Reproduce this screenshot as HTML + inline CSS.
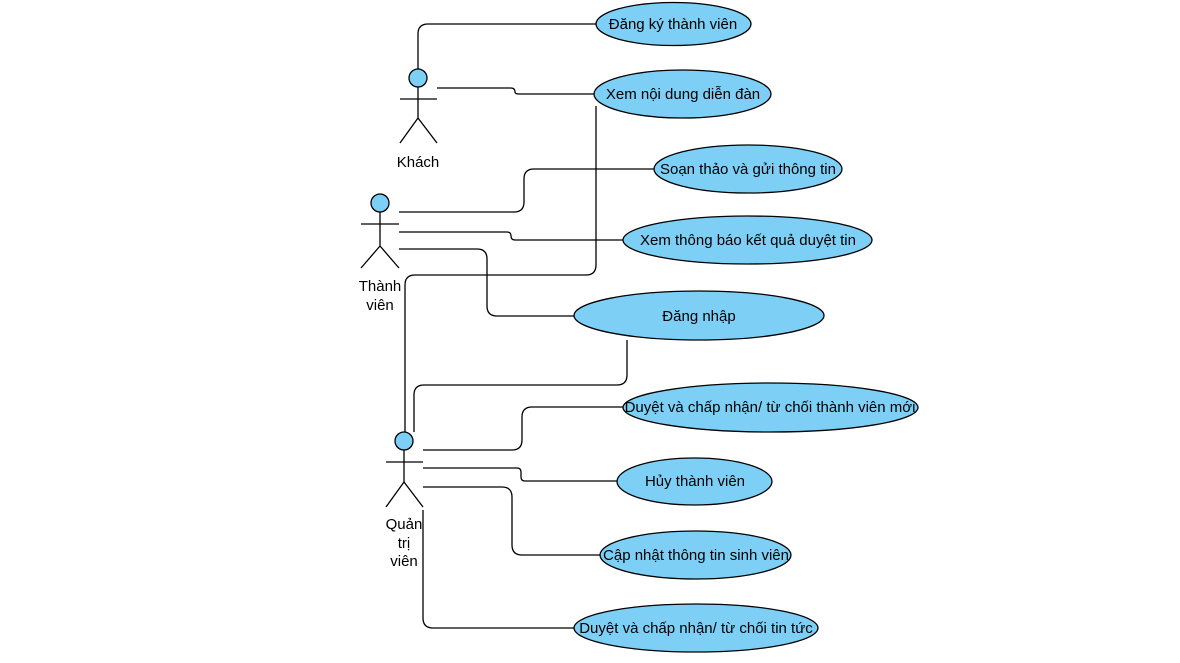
<!DOCTYPE html>
<html><head><meta charset="utf-8"><style>
html,body{margin:0;padding:0;background:#fff;}
svg{display:block;}
text{font-family:"Liberation Sans",Arial,sans-serif;font-size:15px;fill:#000;}
</style></head><body>
<svg width="1180" height="663" viewBox="0 0 1180 663" xmlns="http://www.w3.org/2000/svg">
<g fill="none" stroke="#000" stroke-width="1.3">
<path d="M418 69 V34 Q418 24 428 24 H596"/>
<path d="M437 88 H511 Q515 88 515 92 Q515 94 519 94 H594"/>
<path d="M596 106 V265 Q596 275 586 275 H415 Q405 275 405 285 V432"/>
<path d="M399 212 H514 Q524 212 524 202 V179 Q524 169 534 169 H654"/>
<path d="M399 232 H507 Q511 232 511 236 Q511 240 515 240 H623"/>
<path d="M399 249 H477 Q487 249 487 259 V306 Q487 316 497 316 H574"/>
<path d="M627 340 V375 Q627 385 617 385 H424 Q414 385 414 395 V432"/>
<path d="M423 450 H512 Q522 450 522 440 V417 Q522 407 532 407 H623"/>
<path d="M423 468 H517 Q521 468 521 472 V477 Q521 481 525 481 H617"/>
<path d="M423 487 H502 Q512 487 512 497 V545 Q512 555 522 555 H600"/>
<path d="M423 510 V618 Q423 628 433 628 H574"/>
</g>
<g fill="#7dcff5" stroke="#000" stroke-width="1.3">
<ellipse cx="673.5" cy="24" rx="77.5" ry="21.5"/>
<ellipse cx="682.5" cy="94" rx="88.5" ry="24"/>
<ellipse cx="748" cy="169" rx="94" ry="24"/>
<ellipse cx="747.5" cy="240" rx="124.5" ry="24"/>
<ellipse cx="699" cy="315.5" rx="125" ry="24.5"/>
<ellipse cx="770.5" cy="407.5" rx="147.5" ry="24.5"/>
<ellipse cx="694.5" cy="481.5" rx="77.5" ry="23.5"/>
<ellipse cx="695.5" cy="555" rx="95.5" ry="24"/>
<ellipse cx="696" cy="628" rx="122" ry="24"/>
</g>
<g stroke="#000" stroke-width="1.3" fill="none">
<circle cx="418" cy="78" r="9" fill="#7dcff5"/>
<path d="M418 87 V118 M400 99 H437 M418 118 L400 143 M418 118 L437 143"/>
<circle cx="380" cy="203" r="9" fill="#7dcff5"/>
<path d="M380 212 V246 M361 224 H399 M380 246 L361 268 M380 246 L399 268"/>
<circle cx="404" cy="441" r="9" fill="#7dcff5"/>
<path d="M404 450 V482 M386 462 H423 M404 482 L386 507 M404 482 L423 507"/>
</g>
<g text-anchor="middle">
<text x="673" y="29">Đăng ký thành viên</text>
<text x="683" y="99">Xem nội dung diễn đàn</text>
<text x="748" y="174">Soạn thảo và gửi thông tin</text>
<text x="748" y="245">Xem thông báo kết quả duyệt tin</text>
<text x="699" y="321">Đăng nhập</text>
<text x="770" y="412">Duyệt và chấp nhận/ từ chối thành viên mới</text>
<text x="695" y="486">Hủy thành viên</text>
<text x="696" y="560">Cập nhật thông tin sinh viên</text>
<text x="696" y="633">Duyệt và chấp nhận/ từ chối tin tức</text>
<text x="418" y="167">Khách</text>
<text x="380" y="291">Thành</text>
<text x="380" y="310">viên</text>
<text x="404" y="529">Quản</text>
<text x="404" y="548">trị</text>
<text x="404" y="566">viên</text>
</g>
</svg>
</body></html>
